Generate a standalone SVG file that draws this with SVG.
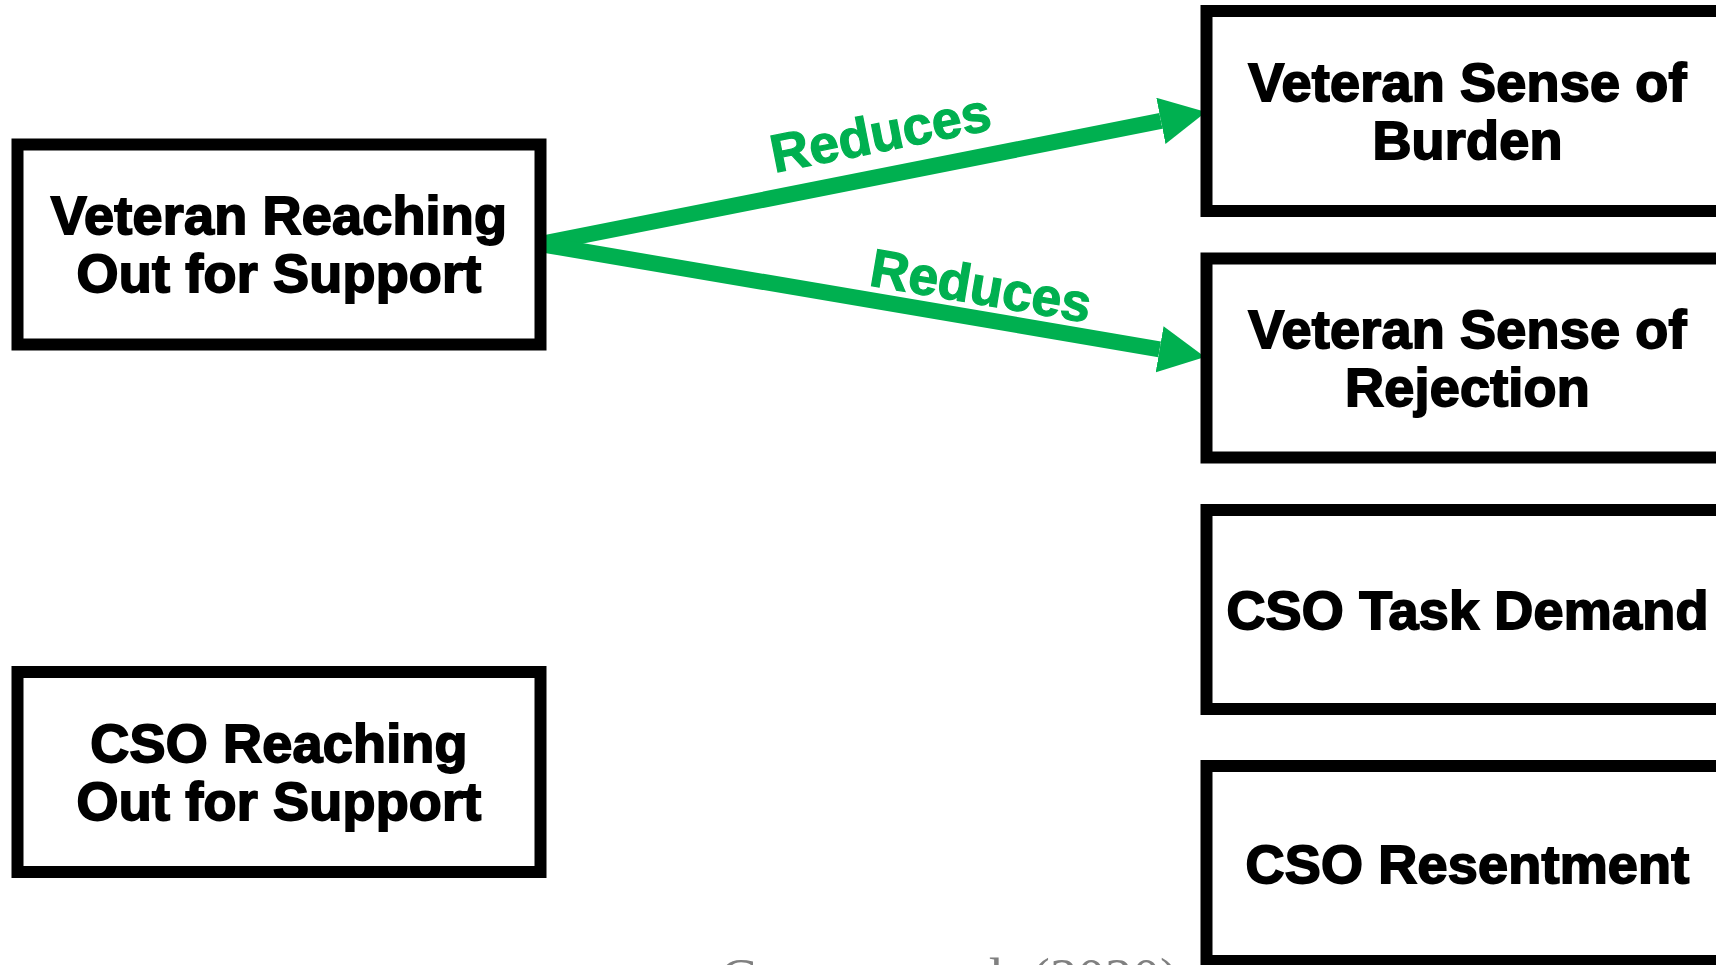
<svg xmlns="http://www.w3.org/2000/svg" width="1716" height="965" viewBox="0 0 1716 965">
  <style>
    .box { fill: #ffffff; stroke: #000000; stroke-width: 12; }
    .lbl { font-family: "Liberation Sans", Arial, sans-serif; font-weight: bold; font-size: 54px; text-anchor: middle; fill: #000000; stroke: #000000; stroke-width: 1.8; letter-spacing: 0.2px; }
    .edge { stroke: #00B050; stroke-width: 16; fill: none; }
    .elbl { font-family: "Liberation Sans", Arial, sans-serif; font-weight: bold; font-size: 53.5px; text-anchor: middle; fill: #00B050; stroke: #00B050; stroke-width: 1.2; }
    .cite { font-family: "Liberation Serif", "Times New Roman", serif; font-size: 55px; fill: #808080; }
  </style>
  <defs>
    <marker id="ah" markerUnits="userSpaceOnUse" markerWidth="48" markerHeight="48" refX="0" refY="23.5" orient="auto">
      <path d="M0,0 L46,23.5 L0,47 z" fill="#00B050"/>
    </marker>
  </defs>
  <rect width="1716" height="965" fill="#ffffff"/>
  <g id="connectors">
    <line class="edge" x1="540" y1="244" x2="1160.9" y2="120.9" marker-end="url(#ah)"/>
    <line class="edge" x1="540" y1="244" x2="1159.6" y2="349.3" marker-end="url(#ah)"/>
    <text class="elbl" x="884" y="151" transform="rotate(-11.2 884 151)">Reduces</text>
    <text class="elbl" x="978" y="304" transform="rotate(9.65 978 304)">Reduces</text>
  </g>
  <g id="veteran-reaching">
    <rect class="box" x="17.5" y="144.5" width="523" height="200"/>
    <text class="lbl" x="279" y="234">Veteran Reaching</text>
    <text class="lbl" x="279" y="292">Out for Support</text>
  </g>
  <g id="cso-reaching">
    <rect class="box" x="17.5" y="672" width="523" height="200"/>
    <text class="lbl" x="279" y="761.5">CSO Reaching</text>
    <text class="lbl" x="279" y="819.5">Out for Support</text>
  </g>
  <g id="veteran-burden">
    <rect class="box" x="1206.5" y="11" width="522" height="200"/>
    <text class="lbl" x="1467.5" y="100.5">Veteran Sense of</text>
    <text class="lbl" x="1467.5" y="158.5">Burden</text>
  </g>
  <g id="veteran-rejection">
    <rect class="box" x="1206.5" y="258.5" width="522" height="199"/>
    <text class="lbl" x="1467.5" y="347.5">Veteran Sense of</text>
    <text class="lbl" x="1467.5" y="405.5">Rejection</text>
  </g>
  <g id="cso-task-demand">
    <rect class="box" x="1206.5" y="510" width="522" height="199"/>
    <text class="lbl" x="1467.5" y="629">CSO Task Demand</text>
  </g>
  <g id="cso-resentment">
    <rect class="box" x="1206.5" y="766" width="522" height="195"/>
    <text class="lbl" x="1467.5" y="883">CSO Resentment</text>
  </g>
  <text class="cite" x="720" y="996">Couture et al. (2020)</text>
</svg>
